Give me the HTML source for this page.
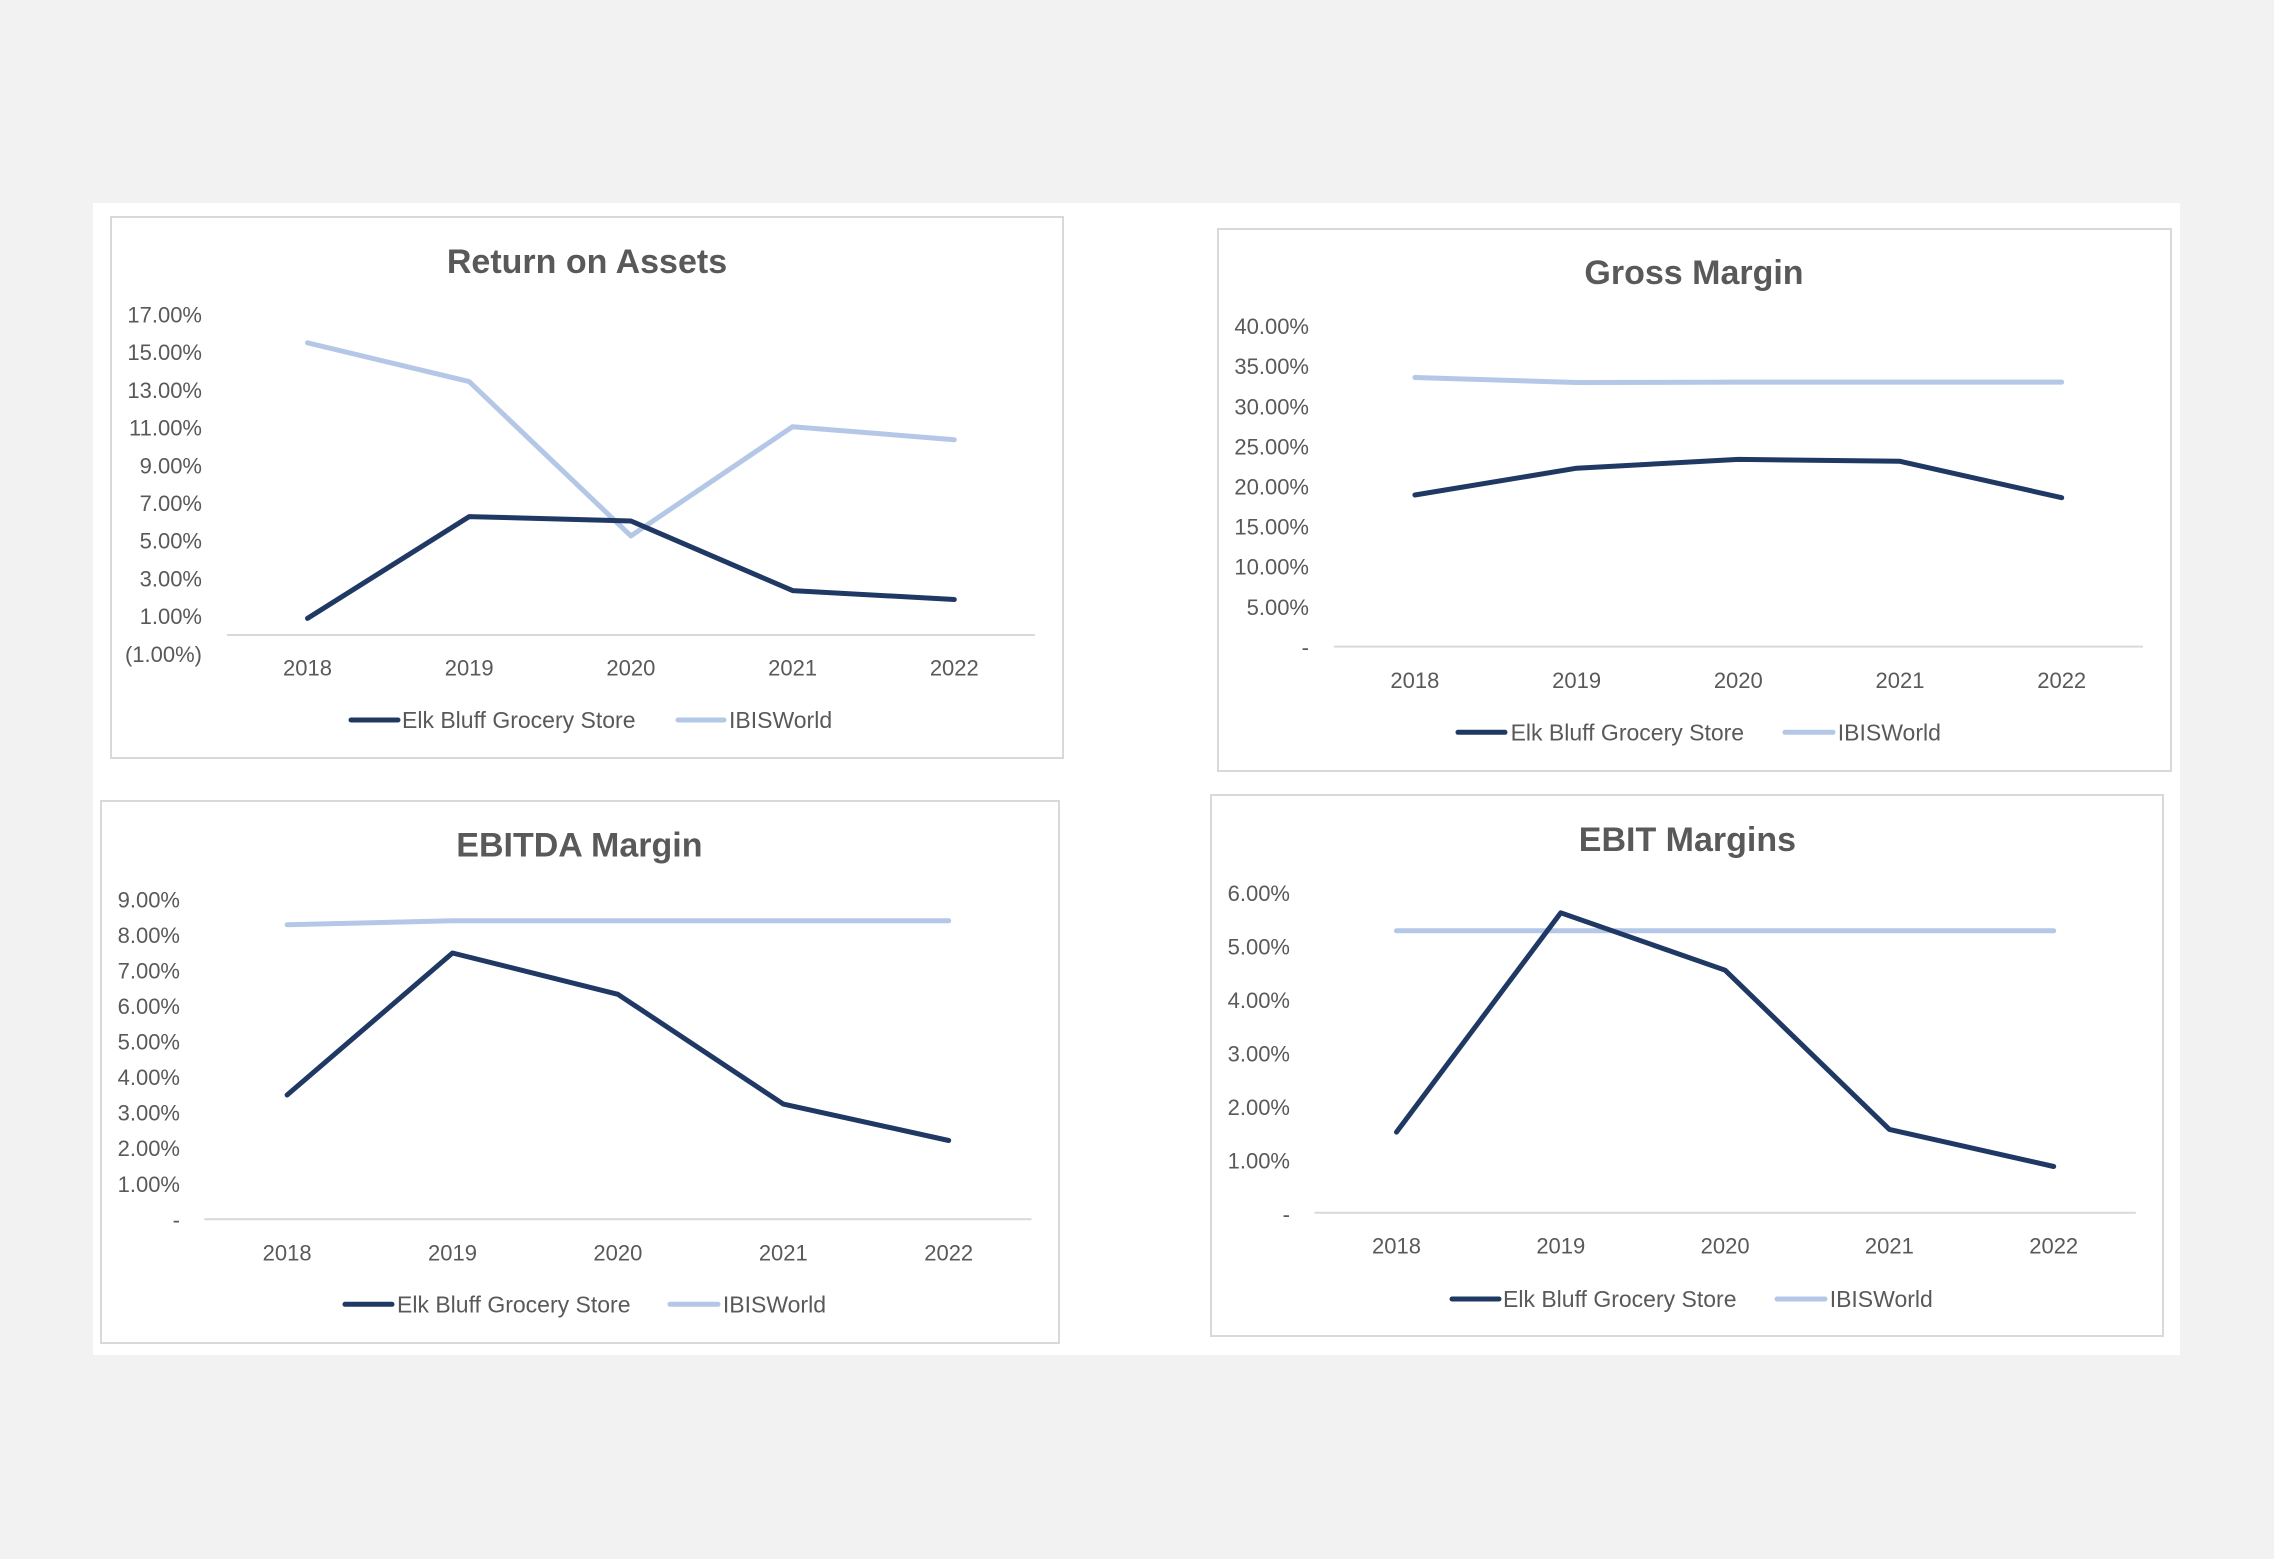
<!DOCTYPE html>
<html><head><meta charset="utf-8"><style>
html,body{margin:0;padding:0;background:#f2f2f2;}
svg{display:block;}
text{font-family:"Liberation Sans",sans-serif;fill:#595959;}
.t{font-size:34px;font-weight:bold;text-anchor:middle;}
.y{font-size:22px;text-anchor:end;dominant-baseline:central;}
.x{font-size:22px;text-anchor:middle;dominant-baseline:central;}
.l{font-size:23px;dominant-baseline:central;}
.d{fill:none;stroke:#203864;stroke-width:5;stroke-linecap:round;stroke-linejoin:round;}
.b{fill:none;stroke:#b4c7e7;stroke-width:5;stroke-linecap:round;stroke-linejoin:round;}
.ax{stroke:#d9d9d9;stroke-width:2;}
.box{fill:#fff;stroke:#d9d9d9;stroke-width:2;}
</style></head><body>
<svg width="2274" height="1559" viewBox="0 0 2274 1559" xmlns="http://www.w3.org/2000/svg">
<rect x="0" y="0" width="2274" height="1559" fill="#f2f2f2"/>
<rect x="93" y="203" width="2087" height="1152" fill="#ffffff"/>

<!-- Return on Assets -->
<rect class="box" x="111" y="217" width="952" height="541"/>
<text class="t" x="587" y="273">Return on Assets</text>
<text class="y" x="202" y="315">17.00%</text>
<text class="y" x="202" y="352.7">15.00%</text>
<text class="y" x="202" y="390.4">13.00%</text>
<text class="y" x="202" y="428.1">11.00%</text>
<text class="y" x="202" y="465.8">9.00%</text>
<text class="y" x="202" y="503.5">7.00%</text>
<text class="y" x="202" y="541.2">5.00%</text>
<text class="y" x="202" y="578.9">3.00%</text>
<text class="y" x="202" y="616.6">1.00%</text>
<text class="y" x="202" y="654.4">(1.00%)</text>
<line class="ax" x1="227" y1="635" x2="1035" y2="635"/>
<text class="x" x="307.5" y="668">2018</text>
<text class="x" x="469.2" y="668">2019</text>
<text class="x" x="630.9" y="668">2020</text>
<text class="x" x="792.6" y="668">2021</text>
<text class="x" x="954.3" y="668">2022</text>
<polyline class="b" points="307.5,342.8 469.2,381.6 630.9,535.9 792.6,426.7 954.3,439.7"/>
<polyline class="d" points="307.5,618.4 469.2,516.6 630.9,521 792.6,590.6 954.3,599.5"/>
<line class="d" x1="351" y1="720" x2="398" y2="720"/>
<text class="l" x="402" y="720">Elk Bluff Grocery Store</text>
<line class="b" x1="678" y1="720" x2="724" y2="720"/>
<text class="l" x="729" y="720">IBISWorld</text>

<!-- Gross Margin -->
<rect class="box" x="1218" y="229" width="953" height="542"/>
<text class="t" x="1694" y="284">Gross Margin</text>
<text class="y" x="1309" y="326.6">40.00%</text>
<text class="y" x="1309" y="366.7">35.00%</text>
<text class="y" x="1309" y="406.8">30.00%</text>
<text class="y" x="1309" y="446.9">25.00%</text>
<text class="y" x="1309" y="487">20.00%</text>
<text class="y" x="1309" y="527.1">15.00%</text>
<text class="y" x="1309" y="567.2">10.00%</text>
<text class="y" x="1309" y="607.3">5.00%</text>
<text class="y" x="1309" y="647.3">-</text>
<line class="ax" x1="1334" y1="646.6" x2="2143" y2="646.6"/>
<text class="x" x="1414.9" y="680.6">2018</text>
<text class="x" x="1576.6" y="680.6">2019</text>
<text class="x" x="1738.3" y="680.6">2020</text>
<text class="x" x="1900" y="680.6">2021</text>
<text class="x" x="2061.7" y="680.6">2022</text>
<polyline class="b" points="1414.9,377.5 1576.6,382.5 1738.3,382.1 1900,382.1 2061.7,382.1"/>
<polyline class="d" points="1414.9,495 1576.6,468.2 1738.3,459.4 1900,461.3 2061.7,497.7"/>
<line class="d" x1="1458" y1="732.3" x2="1505" y2="732.3"/>
<text class="l" x="1510.6" y="732.3">Elk Bluff Grocery Store</text>
<line class="b" x1="1785" y1="732.3" x2="1833" y2="732.3"/>
<text class="l" x="1837.8" y="732.3">IBISWorld</text>

<!-- EBITDA Margin -->
<rect class="box" x="101" y="801" width="958" height="542"/>
<text class="t" x="579.4" y="856.5">EBITDA Margin</text>
<text class="y" x="180" y="899.8">9.00%</text>
<text class="y" x="180" y="935.4">8.00%</text>
<text class="y" x="180" y="970.9">7.00%</text>
<text class="y" x="180" y="1006.5">6.00%</text>
<text class="y" x="180" y="1042">5.00%</text>
<text class="y" x="180" y="1077.6">4.00%</text>
<text class="y" x="180" y="1113.2">3.00%</text>
<text class="y" x="180" y="1148.7">2.00%</text>
<text class="y" x="180" y="1184.3">1.00%</text>
<text class="y" x="180" y="1220">-</text>
<line class="ax" x1="204.4" y1="1219.3" x2="1031.5" y2="1219.3"/>
<text class="x" x="287.1" y="1253">2018</text>
<text class="x" x="452.5" y="1253">2019</text>
<text class="x" x="617.9" y="1253">2020</text>
<text class="x" x="783.3" y="1253">2021</text>
<text class="x" x="948.7" y="1253">2022</text>
<polyline class="b" points="287.1,924.7 452.5,920.8 617.9,920.8 783.3,920.8 948.7,920.8"/>
<polyline class="d" points="287.1,1095 452.5,953 617.9,994.3 783.3,1104.1 948.7,1140.5"/>
<line class="d" x1="345" y1="1304.3" x2="392" y2="1304.3"/>
<text class="l" x="397" y="1304.3">Elk Bluff Grocery Store</text>
<line class="b" x1="670" y1="1304.3" x2="718" y2="1304.3"/>
<text class="l" x="722.9" y="1304.3">IBISWorld</text>

<!-- EBIT Margins -->
<rect class="box" x="1211" y="795" width="952" height="541"/>
<text class="t" x="1687.4" y="850.8">EBIT Margins</text>
<text class="y" x="1290" y="893.7">6.00%</text>
<text class="y" x="1290" y="947.2">5.00%</text>
<text class="y" x="1290" y="1000.6">4.00%</text>
<text class="y" x="1290" y="1054">3.00%</text>
<text class="y" x="1290" y="1107.5">2.00%</text>
<text class="y" x="1290" y="1160.9">1.00%</text>
<text class="y" x="1290" y="1214.4">-</text>
<line class="ax" x1="1314.4" y1="1212.8" x2="2135.8" y2="1212.8"/>
<text class="x" x="1396.5" y="1246">2018</text>
<text class="x" x="1560.8" y="1246">2019</text>
<text class="x" x="1725.1" y="1246">2020</text>
<text class="x" x="1889.4" y="1246">2021</text>
<text class="x" x="2053.7" y="1246">2022</text>
<polyline class="b" points="1396.5,930.8 1560.8,930.8 1725.1,930.8 1889.4,930.8 2053.7,930.8"/>
<polyline class="d" points="1396.5,1132.1 1560.8,912.8 1725.1,970.2 1889.4,1129.4 2053.7,1166.5"/>
<line class="d" x1="1452" y1="1299" x2="1499" y2="1299"/>
<text class="l" x="1503" y="1299">Elk Bluff Grocery Store</text>
<line class="b" x1="1777" y1="1299" x2="1825" y2="1299"/>
<text class="l" x="1829.7" y="1299">IBISWorld</text>
</svg>
</body></html>
